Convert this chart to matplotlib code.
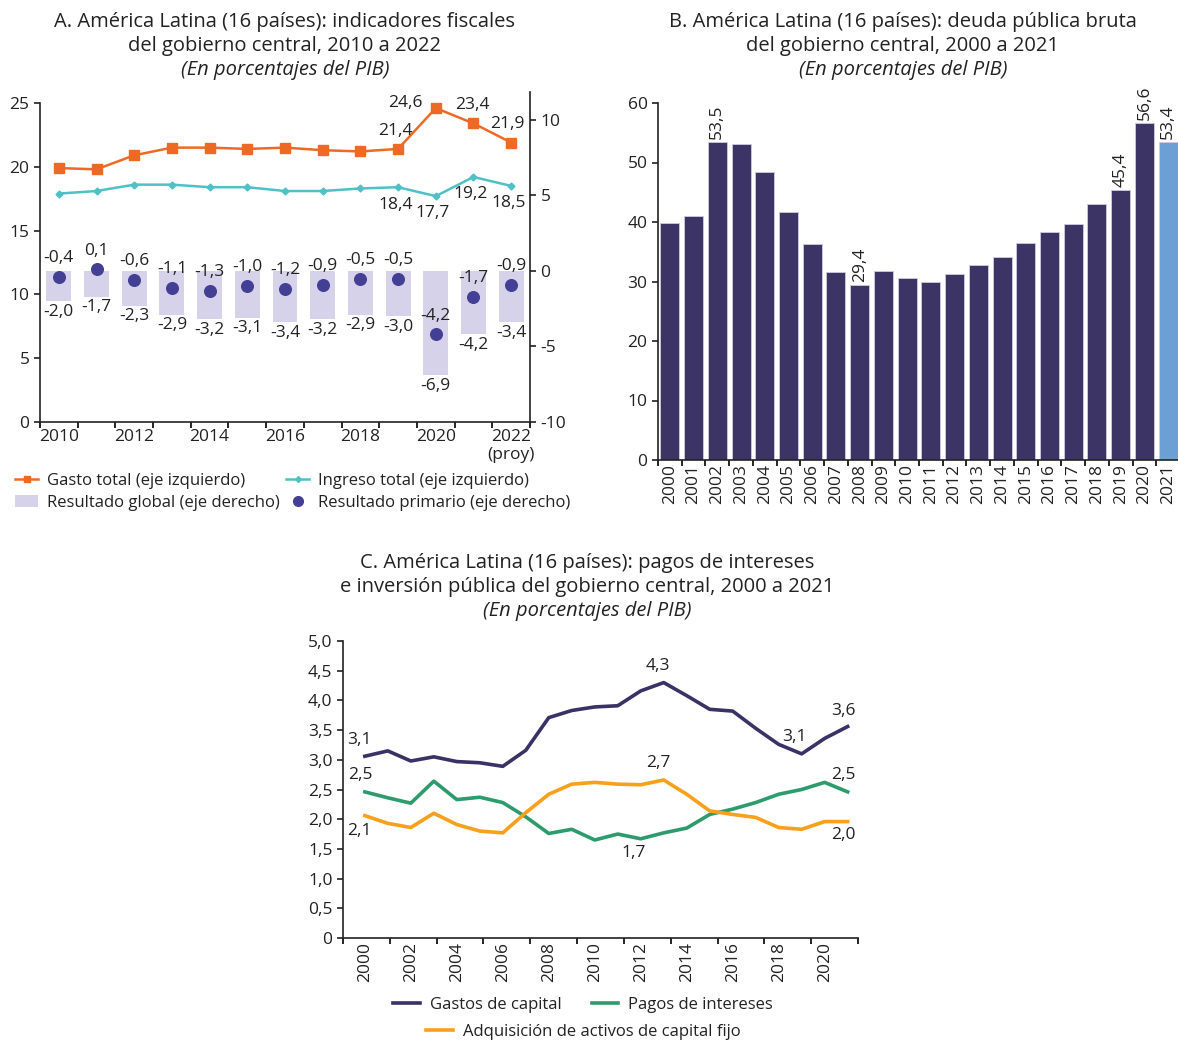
import matplotlib
matplotlib.use("Agg")
from matplotlib import pyplot as plt
from matplotlib.lines import Line2D
from matplotlib.patches import Patch
import numpy as np

plt.rcParams["font.family"] = ["Open Sans", "DejaVu Sans"]
plt.rcParams["font.size"] = 12

# ---- panel A data
years_a = ["2010", "2011", "2012", "2013", "2014", "2015", "2016",
           "2017", "2018", "2019", "2020", "2021", "2022"]
gasto_total = [19.9, 19.8, 20.9, 21.5, 21.5, 21.4, 21.5, 21.3, 21.2, 21.4, 24.6, 23.4, 21.9]
ingreso_total = [17.9, 18.1, 18.6, 18.6, 18.4, 18.4, 18.1, 18.1, 18.3, 18.4, 17.7, 19.2, 18.5]
resultado_global = [-2.0, -1.7, -2.3, -2.9, -3.2, -3.1, -3.4, -3.2, -2.9, -3.0, -6.9, -4.2, -3.4]
resultado_primario = [-0.4, 0.1, -0.6, -1.1, -1.3, -1.0, -1.2, -0.9, -0.5, -0.5, -4.2, -1.7, -0.9]

# ---- panel B data
years_b = [str(y) for y in range(2000, 2022)]
deuda = [39.8, 41.0, 53.5, 53.1, 48.4, 41.7, 36.3, 31.6, 29.4, 31.8, 30.6,
         29.9, 31.3, 32.7, 34.1, 36.5, 38.3, 39.7, 43.0, 45.4, 56.6, 53.4]
deuda_labels = {2: "53,5", 8: "29,4", 19: "45,4", 20: "56,6", 21: "53,4"}

# ---- panel C data
years_c = list(range(2000, 2022))
gastos_capital = [3.06, 3.15, 2.98, 3.05, 2.97, 2.95, 2.89, 3.16, 3.71, 3.83, 3.89,
                  3.91, 4.16, 4.30, 4.08, 3.85, 3.82, 3.53, 3.26, 3.10, 3.36, 3.56]
pagos_intereses = [2.46, 2.36, 2.27, 2.64, 2.33, 2.37, 2.28, 2.04, 1.76, 1.83, 1.65,
                   1.75, 1.67, 1.77, 1.85, 2.08, 2.17, 2.28, 2.42, 2.50, 2.62, 2.46]
activos_fijos = [2.06, 1.93, 1.86, 2.10, 1.91, 1.80, 1.77, 2.11, 2.42, 2.59, 2.62,
                 2.59, 2.58, 2.66, 2.42, 2.14, 2.08, 2.03, 1.86, 1.83, 1.96, 1.96]

ORANGE_A = "#ee6a24"
TEAL = "#4fc1c6"
LAVENDER = "#d6d2e9"
DOT = "#433f94"
NAVY = "#3d3466"
LIGHT_BLUE = "#6c9fd3"
NAVY_C = "#3a3266"
GREEN_C = "#2d9b6b"
ORANGE_C = "#f7a01c"
TEXT = "#222222"

TITLE_FS = 14.5
TICK_FS = 12.5
LAB_FS = 12.5
LEG_FS = 12


def fmt(v):
    return f"{v:.1f}".replace(".", ",")


def style_axis(ax):
    ax.spines["top"].set_visible(False)
    ax.spines["right"].set_visible(False)
    for s in ax.spines.values():
        s.set_color("#222222")
        s.set_linewidth(1.2)
    ax.tick_params(colors=TEXT, labelsize=TICK_FS, length=4, width=1.2)


W, H = 1178, 1042
fig = plt.figure(figsize=(W / 100, H / 100), dpi=100)


def ax_rect(x0, y0, x1, y1):
    return [x0 / W, 1 - y1 / H, (x1 - x0) / W, (y1 - y0) / H]


def title(xc, y_first, lines):
    for k, line in enumerate(lines):
        fig.text(xc / W, 1 - (y_first + 24 * k) / H, line, ha="center", va="center",
                 fontsize=TITLE_FS, color=TEXT,
                 style="italic" if k == len(lines) - 1 else "normal")


# ================= Panel A
ax = fig.add_axes(ax_rect(40, 92, 530, 422))
ax2 = ax.twinx()
ax.set_zorder(2)
ax.patch.set_visible(False)
x = np.arange(len(years_a))

ax.plot(x, gasto_total, color=ORANGE_A, lw=1.8, marker="s", ms=6.5)
ax.plot(x, ingreso_total, color=TEAL, lw=1.8, marker="D", ms=3.5)
ax.set_ylim(0, 25.86)
ax.set_xlim(-0.5, 12.5)
ax.set_yticks([0, 5, 10, 15, 20, 25])
style_axis(ax)
ax.spines["left"].set_bounds(0, 25)
ax.set_xticks(x[::2])
ax.set_xticklabels(years_a[:-1:2] + ["2022\n(proy)"], linespacing=1.2)
ax.set_xticks(np.arange(-0.5, 13, 1), minor=True)
ax.tick_params(axis="x", which="major", length=0, pad=5)
ax.tick_params(axis="x", which="minor", length=4, width=1.2)

ax2.bar(x, resultado_global, width=0.66, color=LAVENDER, zorder=1)
ax2.scatter(x, resultado_primario, s=70, color=DOT, zorder=3)
ax2.set_ylim(-10, 11.85)
ax2.set_yticks([-10, -5, 0, 5, 10])
ax2.set_yticklabels(["-10", "-5", "0", "5", "10"])
for side in ["top", "left", "bottom"]:
    ax2.spines[side].set_visible(False)
ax2.spines["right"].set_color("#222222")
ax2.spines["right"].set_linewidth(1.2)
ax2.tick_params(colors=TEXT, labelsize=TICK_FS, length=4, width=1.2)

for i in range(len(x)):
    ax2.annotate(fmt(resultado_primario[i]), (x[i], resultado_primario[i]),
                 xytext=(0, 13.5), textcoords="offset points",
                 ha="center", va="center", fontsize=LAB_FS, color=TEXT)
    ax2.annotate(fmt(resultado_global[i]), (x[i], resultado_global[i]),
                 xytext=(0, -7.5), textcoords="offset points",
                 ha="center", va="center", fontsize=LAB_FS, color=TEXT)

gasto_offsets = {9: (-2, 13), 10: (-22, 4), 11: (-1, 13), 12: (-3, 13)}
for i, off in gasto_offsets.items():
    ax.annotate(fmt(gasto_total[i]), (x[i], gasto_total[i]), xytext=off,
                textcoords="offset points", ha="center", va="center",
                fontsize=LAB_FS, color=TEXT)
for i in [9, 10, 11, 12]:
    ax.annotate(fmt(ingreso_total[i]), (x[i], ingreso_total[i]), xytext=(-2, -12.5),
                textcoords="offset points", ha="center", va="center",
                fontsize=LAB_FS, color=TEXT)

title(285, 22, ["A. América Latina (16 países): indicadores fiscales",
                "del gobierno central, 2010 a 2022",
                "(En porcentajes del PIB)"])

# two single-column legends, placed side by side
fig.legend([Line2D([], [], color=ORANGE_A, lw=1.8, marker="s", ms=5),
            Patch(facecolor=LAVENDER, edgecolor="none")],
           ["Gasto total (eje izquierdo)", "Resultado global (eje derecho)"],
           loc="center left", bbox_to_anchor=(15 / W, 1 - 492 / H),
           frameon=False, fontsize=LEG_FS, handlelength=1.4,
           handletextpad=0.5, labelspacing=0.35, borderaxespad=0,
           borderpad=0, labelcolor=TEXT)
fig.legend([Line2D([], [], color=TEAL, lw=1.8, marker="D", ms=3),
            Line2D([], [], color=DOT, lw=0, marker="o", ms=7)],
           ["Ingreso total (eje izquierdo)", "Resultado primario (eje derecho)"],
           loc="center left", bbox_to_anchor=(286 / W, 1 - 492 / H),
           frameon=False, fontsize=LEG_FS, handlelength=1.4,
           handletextpad=0.5, labelspacing=0.35, borderaxespad=0,
           borderpad=0, labelcolor=TEXT)

# ================= Panel B
axb = fig.add_axes(ax_rect(658, 103, 1180, 460))
xb = np.arange(len(years_b))
colors_b = [NAVY] * (len(years_b) - 1) + [LIGHT_BLUE]
axb.bar(xb, deuda, width=0.8, color=colors_b, edgecolor="#cfcbe0", linewidth=0.6)
axb.set_ylim(0, 60)
axb.set_xlim(-0.5, 21.5)
axb.set_yticks(range(0, 61, 10))
style_axis(axb)
axb.set_xticks(xb)
axb.set_xticklabels(years_b, rotation=90)
axb.set_xticks(np.arange(-0.5, 22, 1), minor=True)
axb.tick_params(axis="x", which="major", length=0, pad=3)
axb.tick_params(axis="x", which="minor", length=4, width=1.2)
for i, lab in deuda_labels.items():
    axb.annotate(lab, (xb[i], deuda[i]), xytext=(0, 2), textcoords="offset points",
                 ha="center", va="bottom", rotation=90, fontsize=LAB_FS, color=TEXT)

title(903, 22, ["B. América Latina (16 países): deuda pública bruta",
                "del gobierno central, 2000 a 2021",
                "(En porcentajes del PIB)"])

# ================= Panel C
axc = fig.add_axes(ax_rect(343, 641, 858, 938))
axc.plot(years_c, gastos_capital, color=NAVY_C, lw=2.6, solid_joinstyle="round")
axc.plot(years_c, pagos_intereses, color=GREEN_C, lw=2.6, solid_joinstyle="round")
axc.plot(years_c, activos_fijos, color=ORANGE_C, lw=2.6, solid_joinstyle="round")
axc.set_ylim(0, 5)
axc.set_xlim(1999.05, 2021.45)
yt = np.arange(0, 5.01, 0.5)
axc.set_yticks(yt)
axc.set_yticklabels(["0"] + [fmt(v) for v in yt[1:]])
style_axis(axc)
axc.set_xticks(years_c[::2])
axc.set_xticklabels([str(y) for y in years_c[::2]], rotation=90)
axc.set_xticks(np.linspace(1999.05, 2021.45, 12), minor=True)
axc.tick_params(axis="x", which="major", length=0, pad=3)
axc.tick_params(axis="x", which="minor", length=4, width=1.2)

c_labels = [
    (gastos_capital, 0, (-4, 12)), (pagos_intereses, 0, (-3, 12)),
    (activos_fijos, 0, (-4, -11)), (gastos_capital, 13, (-4, 12)),
    (activos_fijos, 13, (-4, 12)), (pagos_intereses, 12, (-5, -10)),
    (gastos_capital, 19, (-5, 12)), (gastos_capital, 21, (-3, 11)),
    (pagos_intereses, 21, (-3, 12)), (activos_fijos, 21, (-3, -10)),
]
for series, i, off in c_labels:
    axc.annotate(fmt(series[i]), (years_c[i], series[i]), xytext=off,
                 textcoords="offset points", ha="center", va="center",
                 fontsize=LAB_FS, color=TEXT)

title(587, 563, ["C. América Latina (16 países): pagos de intereses",
                 "e inversión pública del gobierno central, 2000 a 2021",
                 "(En porcentajes del PIB)"])

fig.legend([Line2D([], [], color=NAVY_C, lw=2.6), Line2D([], [], color=GREEN_C, lw=2.6)],
           ["Gastos de capital", "Pagos de intereses"], ncol=2, loc="center",
           bbox_to_anchor=(583 / W, 1 - 1005 / H), frameon=False, fontsize=LEG_FS,
           handlelength=1.6, handletextpad=0.6, columnspacing=1.8, labelcolor=TEXT)
fig.legend([Line2D([], [], color=ORANGE_C, lw=2.6)],
           ["Adquisición de activos de capital fijo"], loc="center",
           bbox_to_anchor=(583 / W, 1 - 1032 / H), frameon=False, fontsize=LEG_FS,
           handlelength=1.6, handletextpad=0.6, labelcolor=TEXT)

fig.savefig("out.png", dpi=100)
